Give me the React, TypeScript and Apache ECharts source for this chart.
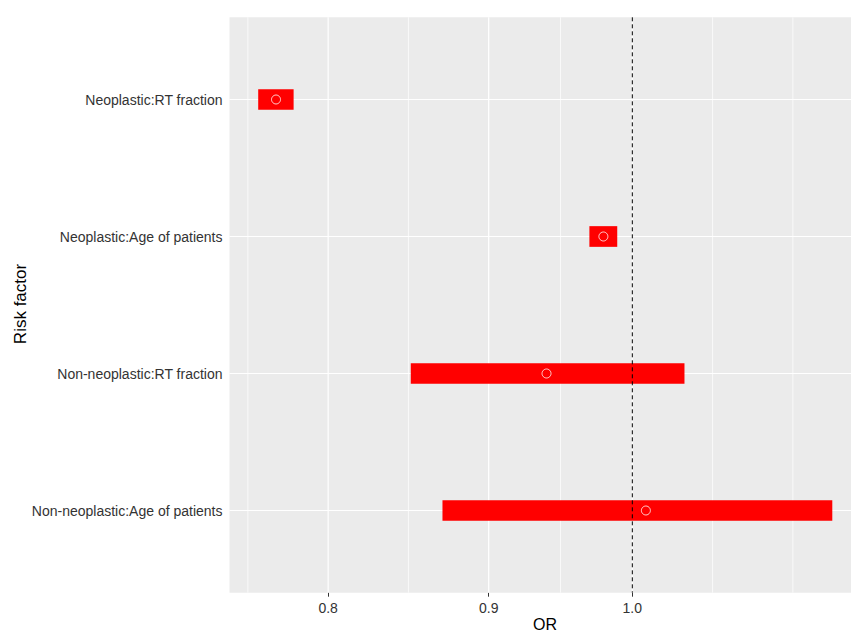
import React, { useEffect, useRef } from "react";
import * as echarts from "echarts";

// ---- data ----
const categories = [
  "Neoplastic:RT fraction",
  "Neoplastic:Age of patients",
  "Non-neoplastic:RT fraction",
  "Non-neoplastic:Age of patients",
];
const orEstimate = [0.77, 0.979, 0.939, 1.01];
const ciLower = [0.76, 0.969, 0.85, 0.87];
const ciUpper = [0.78, 0.989, 1.039, 1.158];
const xBreaks = [0.8, 0.9, 1.0];
const refLine = 1.0;
const xTitle = "OR";
const yTitle = "Risk factor";

const FONT = "'Liberation Sans', Arial, sans-serif";

export default function App() {
  const ref = useRef<HTMLDivElement>(null);

  useEffect(() => {
    if (!ref.current) return;
    const chart = echarts.init(ref.current, undefined, { renderer: "svg" });

    // log-scale transform (natural log), ggplot-like 5% expansion
    const L = (v: number) => Math.log(v);
    const lmin = L(Math.min(...ciLower));
    const lmax = L(Math.max(...ciUpper));
    const pad = 0.05 * (lmax - lmin);
    const xMin = lmin - pad;
    const xMax = lmax + pad;

    const majorLog = xBreaks.map(L);
    const bd = majorLog[1] - majorLog[0];
    const ext = [majorLog[0] - bd, ...majorLog, majorLog[majorLog.length - 1] + bd];
    const minorLog: number[] = [];
    for (let i = 0; i < ext.length - 1; i++) minorLog.push((ext[i] + ext[i + 1]) / 2);
    minorLog.push(ext[ext.length - 1]);

    const yPos = categories.map((_, i) => i + 1);

    const vLineRender = (color: string, width: number, dash?: number[]) =>
      (params: any, api: any) => {
        const cs = params.coordSys;
        const p = api.coord([api.value(0), api.value(1)]);
        return {
          type: "line",
          shape: { x1: p[0], y1: cs.y, x2: p[0], y2: cs.y + cs.height },
          style: { stroke: color, lineWidth: width, lineDash: dash },
        };
      };

    const option: any = {
      animation: false,
      textStyle: { fontFamily: FONT },
      grid: {
        left: 229.5,
        top: 17.3,
        bottom: 39.3,
        right: 0,
        show: true,
        backgroundColor: "#EBEBEB",
        borderWidth: 0,
        containLabel: false,
      },
      xAxis: {
        type: "value",
        min: xMin,
        max: xMax,
        axisLine: { show: false },
        splitLine: { show: false },
        axisTick: {
          show: true,
          customValues: majorLog,
          length: 4,
          lineStyle: { color: "#333333", width: 1 },
        },
        axisLabel: {
          customValues: majorLog,
          margin: 8,
          fontSize: 14,
          color: "#333333",
          fontFamily: FONT,
          formatter: (v: number) => Math.exp(v).toFixed(1),
        },
      },
      yAxis: {
        type: "value",
        inverse: true,
        min: 0.4,
        max: 4.6,
        axisLine: { show: false },
        splitLine: { show: false },
        axisTick: {
          show: true,
          customValues: yPos,
          length: 4,
          lineStyle: { color: "#333333", width: 1 },
        },
        axisLabel: {
          customValues: yPos,
          margin: 7,
          fontSize: 14,
          color: "#333333",
          fontFamily: FONT,
          formatter: (v: number) => categories[Math.round(v) - 1] ?? "",
        },
      },
      graphic: [
        {
          type: "text",
          x: 545,
          y: 624,
          style: {
            text: xTitle,
            fontSize: 16,
            fontFamily: FONT,
            fill: "#000000",
            textAlign: "center",
            textVerticalAlign: "middle",
          },
        },
        {
          type: "text",
          x: 20,
          y: 304,
          rotation: Math.PI / 2,
          style: {
            text: yTitle,
            fontSize: 17,
            fontFamily: FONT,
            fill: "#000000",
            textAlign: "center",
            textVerticalAlign: "middle",
          },
        },
      ],
      series: [
        // minor vertical grid lines
        {
          type: "custom",
          z: 1,
          silent: true,
          data: minorLog.map((v) => [v, 1]),
          renderItem: vLineRender("#FFFFFF", 0.7),
        },
        // major vertical grid lines
        {
          type: "custom",
          z: 1,
          silent: true,
          data: majorLog.map((v) => [v, 1]),
          renderItem: vLineRender("#FFFFFF", 1.2),
        },
        // horizontal grid lines at categories
        {
          type: "custom",
          z: 1,
          silent: true,
          data: yPos.map((y) => [xMin, y]),
          renderItem: (params: any, api: any) => {
            const cs = params.coordSys;
            const p = api.coord([api.value(0), api.value(1)]);
            return {
              type: "line",
              shape: { x1: cs.x, y1: p[1], x2: cs.x + cs.width, y2: p[1] },
              style: { stroke: "#FFFFFF", lineWidth: 1.2 },
            };
          },
        },
        // CI bars
        {
          type: "custom",
          z: 2,
          data: categories.map((_, i) => [L(ciLower[i]), L(ciUpper[i]), i + 1]),
          encode: { x: [0, 1], y: 2 },
          renderItem: (params: any, api: any) => {
            const a = api.coord([api.value(0), api.value(2)]);
            const b = api.coord([api.value(1), api.value(2)]);
            const h = 20.7;
            return {
              type: "rect",
              shape: { x: a[0], y: a[1] - h / 2, width: b[0] - a[0], height: h },
              style: { fill: "#FF0000" },
            };
          },
        },
        // dashed reference line at OR = 1
        {
          type: "custom",
          z: 3,
          silent: true,
          data: [[L(refLine), 1]],
          renderItem: vLineRender("#000000", 1, [4, 3]),
        },
        // point estimates
        {
          type: "scatter",
          z: 4,
          symbol: "circle",
          symbolSize: 9,
          data: categories.map((_, i) => [L(orEstimate[i]), i + 1]),
          itemStyle: {
            color: "rgba(0,0,0,0)",
            borderColor: "#FFFFFF",
            borderWidth: 1,
          },
        },
      ],
    };

    chart.setOption(option);
    return () => chart.dispose();
  }, []);

  return (
    <div
      style={{
        position: "absolute",
        left: 0,
        top: 0,
        width: 851,
        height: 632,
        overflow: "hidden",
      }}
    >
      <div
        ref={ref}
        style={{ position: "absolute", left: 0, top: 0, width: 861, height: 632 }}
      />
    </div>
  );
}
